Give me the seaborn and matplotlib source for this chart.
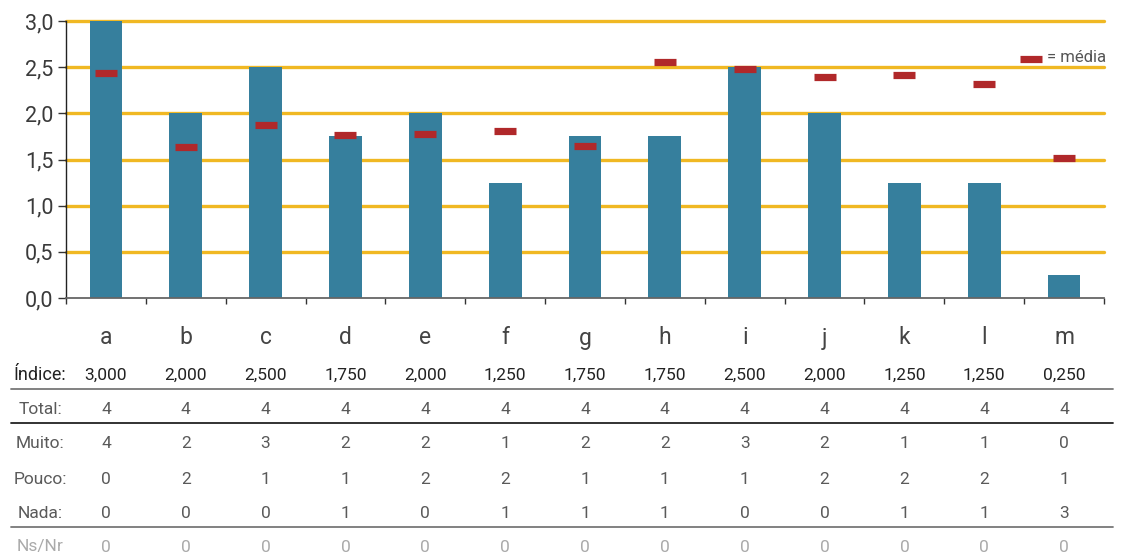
import numpy as np
import pandas as pd
import matplotlib
matplotlib.use('Agg')
import matplotlib.pyplot as plt
import matplotlib.transforms as mtransforms
from matplotlib.lines import Line2D
import seaborn as sns

categorias = ['a', 'b', 'c', 'd', 'e', 'f', 'g', 'h', 'i', 'j', 'k', 'l', 'm']
indice = [3.0, 2.0, 2.5, 1.75, 2.0, 1.25, 1.75, 1.75, 2.5, 2.0, 1.25, 1.25, 0.25]
media = [2.44, 1.64, 1.87, 1.77, 1.78, 1.81, 1.65, 2.56, 2.48, 2.39, 2.41, 2.32, 1.52]
total = [4, 4, 4, 4, 4, 4, 4, 4, 4, 4, 4, 4, 4]
muito = [4, 2, 3, 2, 2, 1, 2, 2, 3, 2, 1, 1, 0]
pouco = [0, 2, 1, 1, 2, 2, 1, 1, 1, 2, 2, 2, 1]
nada = [0, 0, 0, 1, 0, 1, 1, 1, 0, 0, 1, 1, 3]
nsnr = [0, 0, 0, 0, 0, 0, 0, 0, 0, 0, 0, 0, 0]
yticks = [0.0, 0.5, 1.0, 1.5, 2.0, 2.5, 3.0]

AZUL = '#367F9D'
LARANJA = '#F0B823'
VERMELHO = '#B0282A'

sns.set_theme(style='white')
plt.rcParams['font.family'] = ['Roboto', 'DejaVu Sans']

W, H = 1130, 555
fig = plt.figure(figsize=(W / 100, H / 100), dpi=100)
ax = fig.add_axes([66 / W, 257 / H, (1104 - 66) / W, 277 / H])

df = pd.DataFrame({'cat': categorias, 'indice': indice, 'media': media})

# linhas de grade (atrás das barras)
for v in yticks[1:]:
    ax.axhline(v, color=LARANJA, lw=2.4, zorder=0, clip_on=False)

sns.barplot(data=df, x='cat', y='indice', color=AZUL, saturation=1,
            width=0.41, linewidth=0, ax=ax, zorder=2)

# médias
ax.plot(np.arange(len(media)), df['media'], ls='none', marker='_',
        ms=16, mew=5.2, color=VERMELHO, zorder=3)

ax.set_xlim(-0.5, len(categorias) - 0.5)
ax.set_ylim(0, 3.0)
ax.set_yticks(yticks)
ax.set_yticklabels([f'{v:.1f}'.replace('.', ',') for v in yticks],
                   fontsize=15.5, color='#3a3a3a')
ax.set_xticks([])
ax.set_xticks(np.arange(-0.5, len(categorias), 1), minor=True)
ax.tick_params(axis='x', which='minor', direction='out', length=4.5,
               width=1, color='#333333', bottom=True)
ax.tick_params(axis='y', direction='out', length=6, width=1,
               color='#333333', left=True, pad=3)
ax.set_xlabel('')
ax.set_ylabel('')
for s in ['top', 'right']:
    ax.spines[s].set_visible(False)
ax.spines['left'].set_color('#222222')
ax.spines['left'].set_linewidth(1)
ax.spines['bottom'].set_color('#666666')
ax.spines['bottom'].set_linewidth(1.3)

# legenda
fig.add_artist(Line2D([1020 / W, 1042 / W], [1 - 59 / H] * 2, lw=5.2,
                      color=VERMELHO, solid_capstyle='butt'))
fig.text(1047 / W, 1 - 58 / H, '= média', fontsize=12, color='#555555',
         va='center', ha='left')

# tabela
tr = mtransforms.blended_transform_factory(ax.transData, fig.transFigure)
xs = np.arange(len(categorias))


def fy(py):
    return 1 - py / H


for x, c in zip(xs, categorias):
    ax.text(x, fy(338), c, transform=tr, ha='center', va='center',
            fontsize=16.5, color='#444444')

fmt_ind = [f'{v:.3f}'.replace('.', ',') for v in indice]
for x, t in zip(xs, fmt_ind):
    ax.text(x, fy(375), t, transform=tr, ha='center', va='center',
            fontsize=12.5, color='#222222')
fig.text(40 / W, fy(375), 'Índice:', ha='center', va='center',
         fontsize=13, color='#222222')

linhas = [('Total:', total, 409, '#5a5a5a'),
          ('Muito:', muito, 443, '#5a5a5a'),
          ('Pouco:', pouco, 479, '#5a5a5a'),
          ('Nada:', nada, 513, '#5a5a5a'),
          ('Ns/Nr', nsnr, 547, '#AAAAAA')]
for rotulo, vals, py, cor in linhas:
    fig.text(40 / W, fy(py), rotulo, ha='center', va='center',
             fontsize=12.5, color=cor)
    for x, v in zip(xs, vals):
        ax.text(x, fy(py), str(v), transform=tr, ha='center', va='center',
                fontsize=12.5, color=cor)

for py, cor in [(389, '#777777'), (423, '#222222'), (527, '#777777')]:
    fig.add_artist(Line2D([11 / W, 1113 / W], [fy(py)] * 2, lw=1.3, color=cor))

fig.savefig('out.png', dpi=100)
